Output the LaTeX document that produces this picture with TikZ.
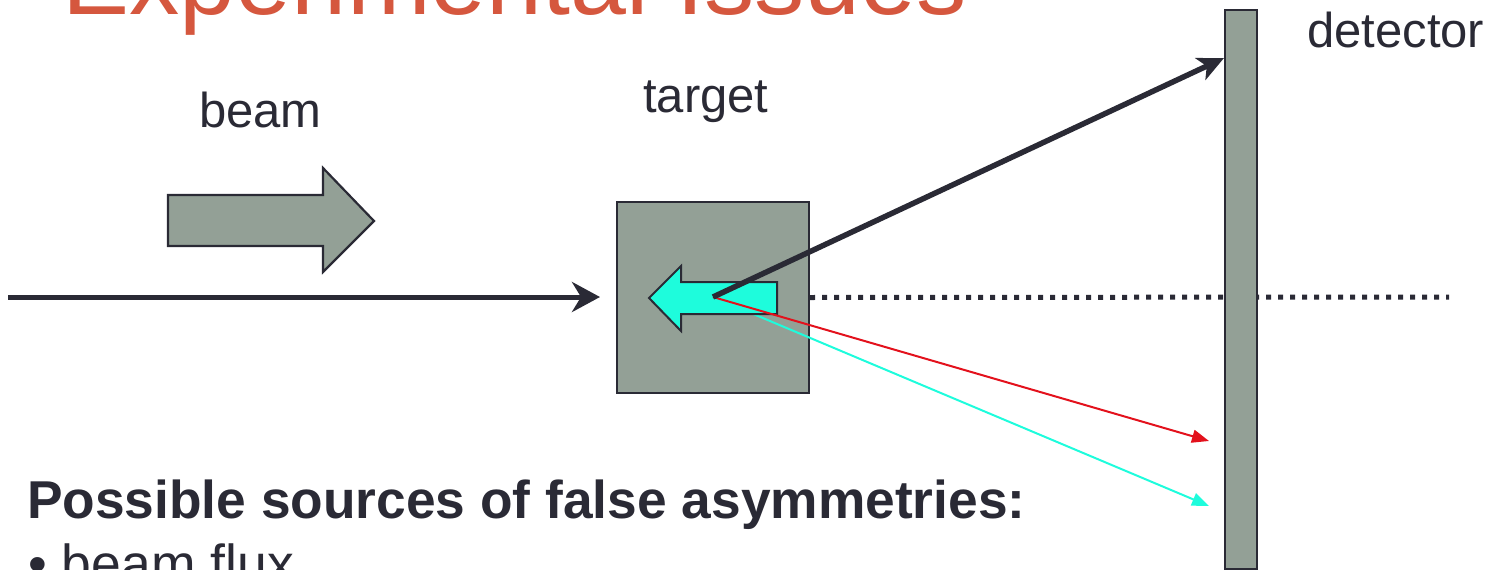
\documentclass[tikz,border=0pt]{standalone}
\usepackage{fontspec}
\setmainfont{Liberation Sans}
\usetikzlibrary{arrows.meta}
\definecolor{dark}{HTML}{2A2A35}
\definecolor{slab}{HTML}{93A096}
\definecolor{aqua}{HTML}{1EFCDC}
\definecolor{hotred}{HTML}{E3111C}
\definecolor{titlered}{HTML}{D5573E}
\tikzset{
  block/.style={fill=slab, draw=dark, line width=2.2pt},
  lbl/.style={anchor=base west, inner sep=0pt, text=dark, font=\fontsize{49}{56}\selectfont},
  beamline/.style={draw=dark, line width=5pt, -{Stealth[length=28pt,width=30pt,inset=9pt]}},
  scatterline/.style={draw=dark, line width=5.5pt, -{Stealth[length=26pt,width=24pt,inset=7pt]}},
  thinray/.style={line width=2pt, -{Triangle[length=17pt,width=13pt]}},
  axisdots/.style={draw=dark, line width=5pt, dash pattern=on 5pt off 7pt}
}
\begin{document}
\begin{tikzpicture}[x=1pt,y=-1pt]
\useasboundingbox (0,0) rectangle (1489,570);
\clip (0,0) rectangle (1489,570);
% title (cut off at the top)
\node[anchor=base west, inner sep=0pt, text=titlered, font=\fontsize{100.5}{110}\selectfont] (title) at (62,14) {Experimental Issues};
% coordinates
\coordinate (beamstart) at (8,297);
\coordinate (beamtip) at (600,297);
\coordinate (src) at (713,297);
\coordinate (hit) at (1224,58);
\coordinate (redtip) at (1209,441);
\coordinate (cyantip) at (1209,506);
\coordinate (dotend) at (1449,297);
% target
\node[block, rectangle, minimum width=192pt, minimum height=191pt, inner sep=0pt] (target) at (713,297.5) {};
% dotted axis
\draw[axisdots] (target.east) -- (dotend);
% detector
\node[block, rectangle, minimum width=32pt, minimum height=559pt, inner sep=0pt] (detector) at (1241,289.5) {};
% beam arrow block
\draw[block] (168,195) -- (323,195) -- (323,168) -- (374,221) -- (323,272) -- (323,246) -- (168,246) -- cycle;
% incoming beam
\draw[beamline] (beamstart) -- (beamtip);
% cyan ray (under the spin arrow)
\draw[thinray, aqua] (src) -- (cyantip);
% spin arrow in target
\draw[fill=aqua, draw=dark, line width=2pt] (777,282) -- (681,282) -- (681,266) -- (649,298) -- (681,331) -- (681,314) -- (777,314) -- cycle;
% red ray
\draw[thinray, hotred] (src) -- (redtip);
% scattered particle
\draw[scatterline] (src) -- (hit);
% labels
\node[lbl] (beamlbl) at (199,127) {beam};
\node[lbl] (targetlbl) at (643,112) {target};
\node[lbl] (detlbl) at (1307,47) {detector};
\node[anchor=base west, inner sep=0pt, text=dark, font=\fontsize{53.3}{60}\selectfont\bfseries] (sources) at (27,518) {Possible sources of false asymmetries:};
\node[anchor=base west, inner sep=0pt, text=dark, font=\fontsize{53.5}{60}\selectfont] (item) at (28,582) {•\hspace{15pt}beam flux};
\end{tikzpicture}
\end{document}
